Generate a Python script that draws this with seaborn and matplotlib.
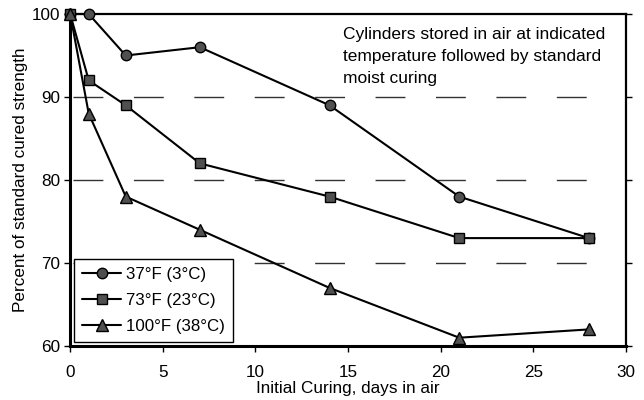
import pandas as pd
import numpy as np
import matplotlib
matplotlib.use("Agg")
import matplotlib.pyplot as plt
import seaborn as sns

# Data
days = [0, 1, 3, 7, 14, 21, 28]
strength_37F = [100, 100, 95, 96, 89, 78, 73]
strength_73F = [100, 92, 89, 82, 78, 73, 73]
strength_100F = [100, 88, 78, 74, 67, 61, 62]
series_labels = ["37°F (3°C)", "73°F (23°C)", "100°F (38°C)"]
series_markers = ["o", "s", "^"]
y_ticks = [60, 70, 80, 90, 100]
x_ticks = [0, 5, 10, 15, 20, 25, 30]
note = "Cylinders stored in air at indicated\ntemperature followed by standard\nmoist curing"

sns.set_style("white")
plt.rcParams["font.family"] = ["Liberation Sans", "DejaVu Sans"]
plt.rcParams["font.size"] = 12
plt.rcParams["text.color"] = "black"
plt.rcParams["xtick.color"] = "black"
plt.rcParams["ytick.color"] = "black"
plt.rcParams["axes.labelcolor"] = "black"

fig = plt.figure(figsize=(6.44, 4.0), dpi=100)
ax = fig.add_axes([0.109, 0.135, 0.863, 0.830])

# dashed reference lines (they stop short of the right frame in the original)
for yv in y_ticks[1:-1]:
    ax.axhline(yv, xmin=0.005, xmax=0.94, color="#333333", lw=1.0,
               dashes=(21.5, 22), zorder=1)

all_series = [strength_37F, strength_73F, strength_100F]
for vals, lab, mk in zip(all_series, series_labels, series_markers):
    df = pd.DataFrame({"days": days, "strength": vals})
    sns.lineplot(data=df, x="days", y="strength", ax=ax, color="black", lw=1.5,
                 marker=mk, markersize=8.5 if mk == "^" else 7.5,
                 markerfacecolor="#505050", markeredgecolor="black",
                 markeredgewidth=1.0, label=lab, zorder=3, clip_on=False)

ax.set_xlim(0, 30)
ax.set_ylim(60, 100)
ax.set_xticks(x_ticks)
ax.set_yticks(y_ticks)
ax.tick_params(axis="both", direction="out", length=4, width=1, color="black",
               labelsize=12.3)
ax.tick_params(axis="x", bottom=True, pad=10)
ax.tick_params(axis="y", left=True, right=True, pad=3)
ax.set_xlabel("Initial Curing, days in air", fontsize=12.3, labelpad=0.5)
ax.set_ylabel("Percent of standard cured strength", fontsize=12.3, labelpad=3)

for side, lw in [("left", 2.2), ("bottom", 2.2), ("right", 1.6), ("top", 1.6)]:
    ax.spines[side].set_visible(True)
    ax.spines[side].set_color("black")
    ax.spines[side].set_linewidth(lw)

ax.text(0.491, 0.962, note, transform=ax.transAxes, ha="left", va="top",
        fontsize=12.5, linespacing=1.6)

leg = ax.legend(loc="lower left", frameon=True, fancybox=False, framealpha=1,
                edgecolor="black", fontsize=12.2, handlelength=2.3,
                handletextpad=0.3, borderaxespad=0.25, borderpad=0.45,
                labelspacing=0.65)
leg.get_frame().set_linewidth(1.0)

fig.savefig("out.png", dpi=100)
